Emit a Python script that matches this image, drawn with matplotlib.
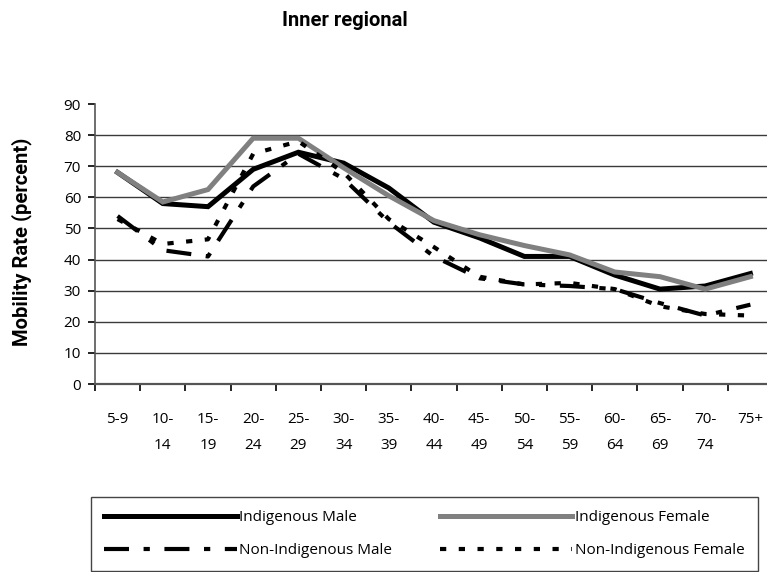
import matplotlib
matplotlib.use("Agg")
import matplotlib.pyplot as plt
from matplotlib.ticker import FixedLocator

# -------------------------------
# data
# -------------------------------
age_groups = ['5-9', '10-\n14', '15-\n19', '20-\n24', '25-\n29', '30-\n34', '35-\n39',
              '40-\n44', '45-\n49', '50-\n54', '55-\n59', '60-\n64', '65-\n69',
              '70-\n74', '75+']

indig_male = [68, 58, 57, 69, 74.5, 71, 63, 52, 47, 41, 41, 35, 30.5, 31.5, 35.5]
indig_female = [68, 58.5, 62.5, 79, 79, 69.5, 60.5, 52.5, 48, 44.5, 41.5, 36, 34.5, 30.5, 34.5]
nonindig_male = [54, 43, 41, 63.5, 74, 66, 52, 41, 34, 32, 31.5, 30.5, 26, 22, 25.5]
nonindig_female = [53, 45, 46.5, 74, 78, 68, 53, 44, 34.5, 32, 32.5, 30.5, 25, 22.5, 22]

series_names = ['Indigenous Male', 'Indigenous Female',
                'Non-Indigenous Male', 'Non-Indigenous Female']

narrow = ['Roboto', 'DejaVu Sans']
plt.rcParams['font.family'] = ['Open Sans', 'DejaVu Sans']

fig = plt.figure(figsize=(7.67, 5.72), dpi=100)
ax = fig.add_axes([95 / 767, 1 - 384 / 572, 678 / 767, 280 / 572])

x = list(range(len(age_groups)))

# -------------------------------
# lines
# -------------------------------
l1, = ax.plot(x, indig_male, color='black', lw=3.6, solid_joinstyle='miter', zorder=3)
l2, = ax.plot(x, indig_female, color='#808080', lw=3.6, solid_joinstyle='miter', zorder=4)
l3, = ax.plot(x, nonindig_male, color='black', lw=3.0, dashes=[6, 3.5, 1.5, 3.5], zorder=5)
l4, = ax.plot(x, nonindig_female, color='black', lw=3.0, dashes=[1.5, 3], zorder=6)

# -------------------------------
# axes styling
# -------------------------------
ax.set_xlim(-0.5, len(age_groups) - 0.5)
ax.set_ylim(0, 90)
ax.set_yticks(range(0, 91, 10))
for v in range(10, 90, 10):
    ax.axhline(v, color='#3a3a3a', lw=1.0, zorder=1)

ax.set_xticks(x)
ax.set_xticklabels(age_groups, fontsize=11, linespacing=2.05)
ax.xaxis.set_minor_locator(FixedLocator([i - 0.5 for i in range(len(age_groups) + 1)]))
ax.tick_params(axis='x', which='major', length=0, pad=20)
ax.tick_params(axis='x', which='minor', length=5, width=1.2, color='black', direction='out')
ax.tick_params(axis='y', length=5, width=1.2, pad=5, labelsize=11, direction='out')

for s in ['top', 'right']:
    ax.spines[s].set_visible(False)
ax.spines['left'].set_color('#555555')
ax.spines['left'].set_linewidth(1.2)
ax.spines['bottom'].set_color('#555555')
ax.spines['bottom'].set_linewidth(1.6)

# -------------------------------
# texts
# -------------------------------
fig.text(345 / 767, 1 - 21 / 572, 'Inner regional', ha='center', va='center',
         fontsize=14.5, fontweight='bold', family=narrow)
fig.text(22 / 767, 1 - 242 / 572, 'Mobility Rate (percent)', ha='center', va='center',
         rotation=90, fontsize=14.5, fontweight='bold', family=narrow)

# -------------------------------
# legend (column-wise fill, so order handles for rows)
# -------------------------------
leg = fig.legend([l1, l3, l2, l4],
                 [series_names[0], series_names[2], series_names[1], series_names[3]],
                 ncol=2, loc='upper left', bbox_to_anchor=(91 / 767, 1 - 497 / 572),
                 fontsize=11, handlelength=8.7, handletextpad=0.15,
                 columnspacing=3.1, labelspacing=1.2, borderpad=0.85,
                 borderaxespad=0, fancybox=False, framealpha=1)
leg.get_frame().set_edgecolor('#444444')
leg.get_frame().set_linewidth(1.0)

fig.savefig('out.png', dpi=100)
